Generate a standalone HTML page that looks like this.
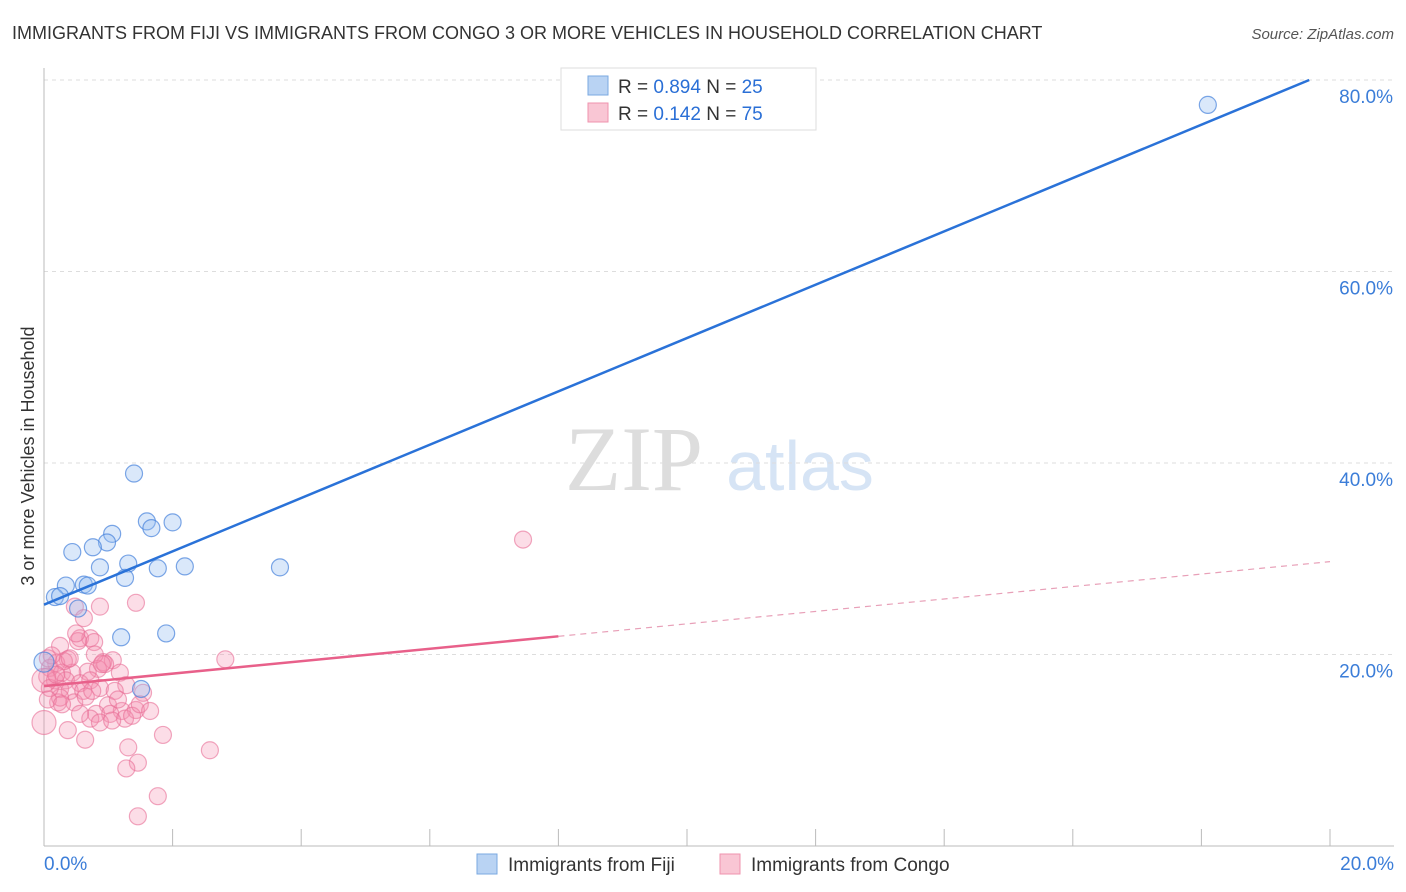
<!DOCTYPE html>
<html><head><meta charset="utf-8"><style>
body{margin:0;background:#fff;font-family:"Liberation Sans",sans-serif;}
svg{display:block}
</style></head><body>
<svg id="c" width="1406" height="892" xmlns="http://www.w3.org/2000/svg">
<text x="12" y="39" font-size="18" fill="#333">IMMIGRANTS FROM FIJI VS IMMIGRANTS FROM CONGO 3 OR MORE VEHICLES IN HOUSEHOLD CORRELATION CHART</text>
<text x="1394" y="39" font-size="15" fill="#555" font-style="italic" text-anchor="end">Source: ZipAtlas.com</text>
<text x="634" y="490" font-size="92" fill="#ddd" font-family="Liberation Serif,serif" text-anchor="middle">ZIP</text>
<text x="800" y="490" font-size="70" fill="#d6e4f5" text-anchor="middle">atlas</text>
<text transform="translate(34,456) rotate(-90)" font-size="18" fill="#333" text-anchor="middle">3 or more Vehicles in Household</text>
<g id="grid"></g><g id="pts"></g><g id="lines"></g>
<g>
<rect x="561" y="68" width="255" height="62" fill="#fff" stroke="#ddd"/>
<rect x="588" y="76" width="20" height="19" fill="#b9d3f3" stroke="#7aa8e0"/>
<text x="618" y="93" font-size="19" fill="#333">R = <tspan fill="#2a6fd6">0.894</tspan>   N = <tspan fill="#2a6fd6">25</tspan></text>
<rect x="588" y="103" width="20" height="19" fill="#f9c6d4" stroke="#ef93ae"/>
<text x="618" y="120" font-size="19" fill="#333">R =  <tspan fill="#2a6fd6">0.142</tspan>   N = <tspan fill="#2a6fd6">75</tspan></text>
</g>
<g>
<rect x="477" y="854" width="20" height="20" fill="#b9d3f3" stroke="#7aa8e0"/>
<text x="508" y="871" font-size="19" fill="#333">Immigrants from Fiji</text>
<rect x="720" y="854" width="20" height="20" fill="#f9c6d4" stroke="#ef93ae"/>
<text x="751" y="871" font-size="19" fill="#333">Immigrants from Congo</text>
</g>
<text x="44" y="870" font-size="19" fill="#3b7dd8">0.0%</text>
<text x="1394" y="870" font-size="19" fill="#3b7dd8" text-anchor="end">20.0%</text>
</svg>
<script>
const yTicks=[20,40,60,80];
const xTicks=[0,2,4,6,8,10,12,14,16,18,20];
const fijiX=[1.4,1.6,1.67,2.0,1.06,0.98,0.76,0.44,1.31,0.87,1.77,2.19,3.67,1.26,0.34,0.62,0.68,0.17,0.25,0.53,1.2,1.9,1.51,18.1,0.0];
const fijiY=[38.9,33.9,33.2,33.8,32.6,31.7,31.2,30.7,29.5,29.1,29.0,29.2,29.1,28.0,27.2,27.3,27.2,26.0,26.1,24.8,21.8,22.2,16.4,77.4,19.2];
const congoX=[7.45,1.43,0.87,0.48,0.62,0.56,0.72,0.53,0.25,2.82,0.92,1.07,0.37,0.19,0.09,0.84,0.68,0.28,0.44,1.18,0.05,0.17,0.34,0.56,0.72,0.87,1.28,0.25,0.40,0.61,1.10,1.54,0.22,0.47,0.25,0.996,1.21,1.43,0.81,1.03,1.26,0.72,1.37,0.87,1.06,0.37,0.64,0.0,1.85,1.31,2.58,1.46,1.28,1.77,1.46,0.09,0.31,0.12,0.78,0.50,0.0,0.06,1.49,1.65,1.15,0.95,0.79,0.65,0.40,0.06,0.19,0.28,0.56,0.75,0.90];
const congoY=[32.0,25.4,25.0,25.0,23.8,21.7,21.7,21.4,20.9,19.5,19.2,19.4,19.5,19.1,18.6,18.5,18.2,18.1,18.1,18.1,17.7,17.3,17.3,17.0,17.3,16.5,16.8,16.4,16.2,16.2,16.2,16.0,15.0,15.0,15.5,14.7,14.1,14.2,13.8,13.8,13.3,13.3,13.6,12.9,13.1,12.1,11.1,12.9,11.6,10.3,10.0,8.7,8.1,5.2,3.1,16.5,19.3,19.9,21.3,22.2,17.3,15.3,14.8,14.1,15.3,19.0,20.0,15.6,19.6,19.6,17.9,14.8,13.8,16.2,19.0];
const fijiLine=[25.2,80.9]; // y at x=0 and x=20
const congoLine=[16.7,29.7];
const X=v=>44+v/20*1286, Y=v=>846-v/20*191.5;
const NS="http://www.w3.org/2000/svg";
function mk(t,a,p){const e=document.createElementNS(NS,t);for(const k in a)e.setAttribute(k,a[k]);p.appendChild(e);return e;}
const grid=document.getElementById('grid');
yTicks.forEach(t=>{
 const l=mk('line',{x1:44,x2:1394,y1:Y(t),y2:Y(t),stroke:'#ddd','stroke-dasharray':'4,4'},grid);
 
 
 const tx=mk('text',{x:1393,y:Y(t)+23,'font-size':19,fill:'#3b7dd8','text-anchor':'end'},grid);
 tx.textContent=t.toFixed(1)+'%';
 
 
});
const ax=mk('line',{x1:44,x2:44,y1:68,y2:846,stroke:'#bbb'},grid);


const bx=mk('line',{x1:44,x2:1394,y1:846,y2:846,stroke:'#bbb'},grid);


xTicks.forEach(t=>{
 const l=mk('line',{x1:X(t),x2:X(t),y1:829,y2:846,stroke:'#bbb'},grid);
 
 
});
const pts=document.getElementById('pts');
congoX.forEach((v,i)=>{
 const c=mk('circle',{cx:X(v),cy:Y(congoY[i]),r:(v===0?12:8.5),fill:'rgba(244,143,177,0.3)',stroke:'rgba(232,110,150,0.6)','stroke-width':1.2},pts);
 
 
});
fijiX.forEach((v,i)=>{
 const c=mk('circle',{cx:X(v),cy:Y(fijiY[i]),r:(v===0?10:8.5),fill:'rgba(150,190,240,0.35)',stroke:'rgba(70,130,220,0.7)','stroke-width':1.2},pts);
 
 
});
const lines=document.getElementById('lines');
const fx=(80-fijiLine[0])/(fijiLine[1]-fijiLine[0])*20;
const bl=mk('line',{x1:X(0),y1:Y(fijiLine[0]),x2:X(Math.min(20,fx)),y2:Y(fijiLine[0]+(fijiLine[1]-fijiLine[0])*Math.min(20,fx)/20),stroke:'#2a72d8','stroke-width':2.5},lines);


const cm=8, cy=v=>congoLine[0]+(congoLine[1]-congoLine[0])*v/20;
const pl=mk('line',{x1:X(0),y1:Y(cy(0)),x2:X(cm),y2:Y(cy(cm)),stroke:'#e8608a','stroke-width':2.5},lines);


const pd=mk('line',{x1:X(cm),y1:Y(cy(cm)),x2:X(20),y2:Y(cy(20)),stroke:'#e8a0b8','stroke-width':1.2,'stroke-dasharray':'6,5'},lines);


</script>
</body></html>
